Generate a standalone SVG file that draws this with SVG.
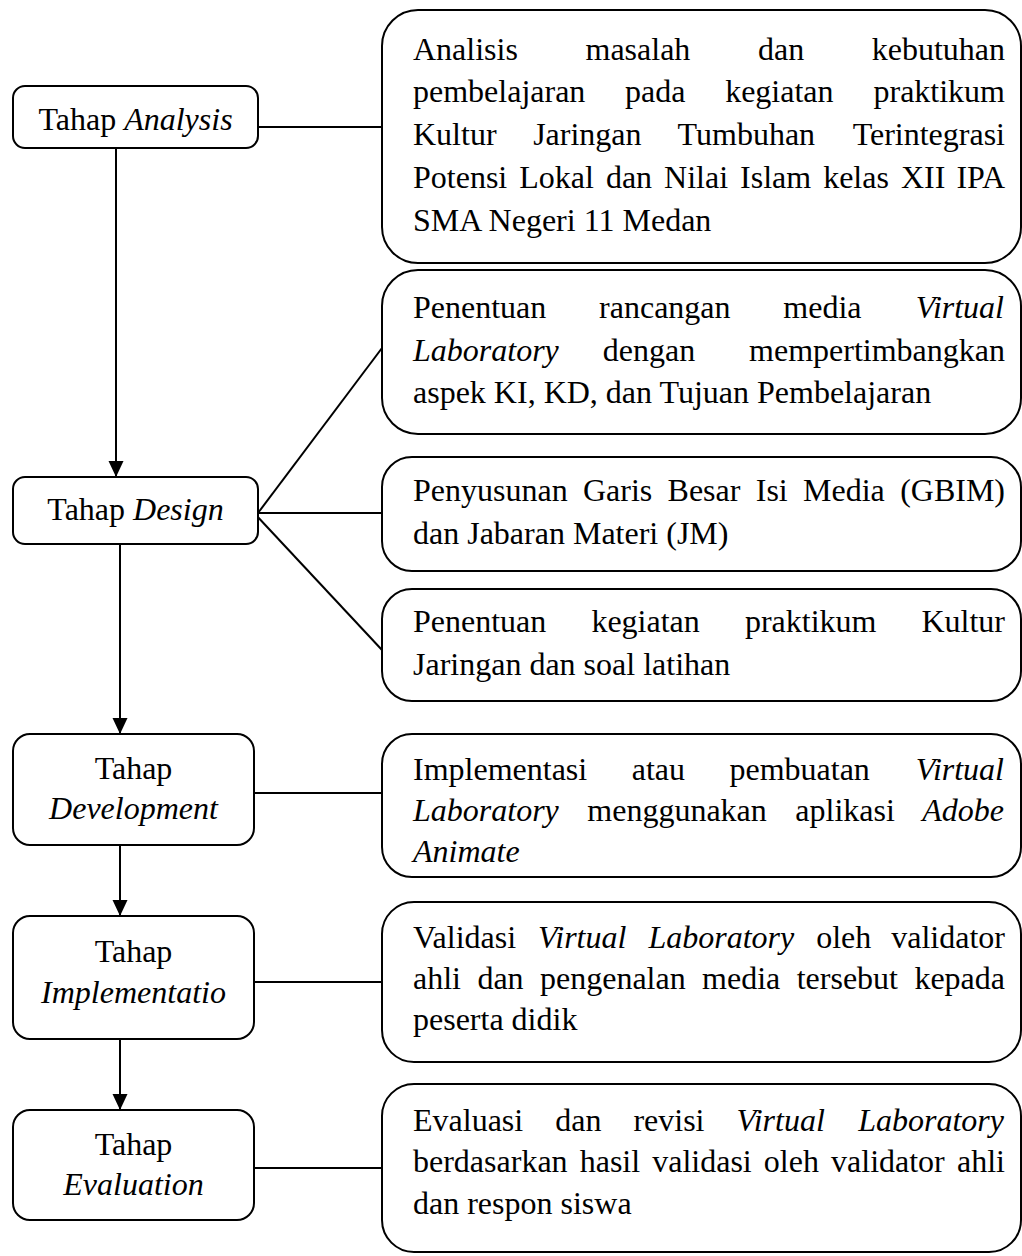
<svg xmlns="http://www.w3.org/2000/svg" width="1022" height="1256" viewBox="0 0 1022 1256">
<style>
  .box { fill: #ffffff; stroke: #000000; stroke-width: 2; }
  .ln { fill: none; stroke: #000000; stroke-width: 2; }
  text { font-family: "Times New Roman", "Liberation Serif", Tinos, Times, serif; font-size: 32px; fill: #000000; }
  .c { text-anchor: middle; }
  .e { text-anchor: end; }
  .i { font-style: italic; }
</style>
<defs>
  <marker id="arr" markerUnits="userSpaceOnUse" markerWidth="16" markerHeight="16" viewBox="0 0 16 16" refX="16" refY="8" orient="auto">
    <path d="M0,0.5 L16,8 L0,15.5 Z" fill="#000000"/>
  </marker>
</defs>
<rect width="1022" height="1256" fill="#ffffff"/>

<g id="connectors">
  <line class="ln" x1="258" y1="127" x2="382" y2="127"/>
  <line class="ln" x1="116" y1="148" x2="116" y2="477" marker-end="url(#arr)"/>
  <line class="ln" x1="258" y1="513" x2="382" y2="348"/>
  <line class="ln" x1="258" y1="513" x2="382" y2="513"/>
  <line class="ln" x1="255" y1="514" x2="382" y2="650"/>
  <line class="ln" x1="120" y1="544" x2="120" y2="734" marker-end="url(#arr)"/>
  <line class="ln" x1="254" y1="793" x2="382" y2="793"/>
  <line class="ln" x1="120" y1="845" x2="120" y2="916" marker-end="url(#arr)"/>
  <line class="ln" x1="254" y1="982" x2="382" y2="982"/>
  <line class="ln" x1="120" y1="1039" x2="120" y2="1110" marker-end="url(#arr)"/>
  <line class="ln" x1="254" y1="1168" x2="382" y2="1168"/>
</g>

<g id="tahap-analysis">
  <rect class="box" x="13" y="86" width="245" height="62" rx="12"/>
  <text class="c" x="135.5" y="130">Tahap <tspan class="i">Analysis</tspan></text>
</g>
<g id="tahap-design">
  <rect class="box" x="13" y="477" width="245" height="67" rx="12"/>
  <text class="c" x="135.5" y="520">Tahap <tspan class="i">Design</tspan></text>
</g>
<g id="tahap-development">
  <rect class="box" x="13" y="734" width="241" height="111" rx="17"/>
  <text class="c" x="133.5" y="779">Tahap</text>
  <text class="c i" x="133.5" y="819">Development</text>
</g>
<g id="tahap-implementation">
  <rect class="box" x="13" y="916" width="241" height="123" rx="17"/>
  <text class="c" x="133.5" y="962">Tahap</text>
  <text class="c i" x="133.5" y="1003">Implementatio</text>
</g>
<g id="tahap-evaluation">
  <rect class="box" x="13" y="1110" width="241" height="110" rx="17"/>
  <text class="c" x="133.5" y="1155">Tahap</text>
  <text class="c i" x="133.5" y="1195">Evaluation</text>
</g>

<g id="analysis-detail">
  <rect class="box" x="382" y="10" width="639" height="253" rx="36"/>
  <text x="413" y="60" word-spacing="59.6">Analisis masalah dan</text>
  <text class="e" x="1005" y="60">kebutuhan</text>
  <text x="413" y="102" word-spacing="31.7">pembelajaran pada kegiatan</text>
  <text class="e" x="1005" y="102">praktikum</text>
  <text x="413" y="145" word-spacing="28.6">Kultur Jaringan Tumbuhan</text>
  <text class="e" x="1005" y="145">Terintegrasi</text>
  <text x="413" y="188" word-spacing="4">Potensi Lokal dan Nilai Islam kelas XII</text>
  <text class="e" x="1005" y="188">IPA</text>
  <text x="413" y="231">SMA Negeri 11 Medan</text>
</g>

<g id="design-detail-1">
  <rect class="box" x="382" y="270" width="639" height="164" rx="36"/>
  <text x="413" y="318" word-spacing="44.8">Penentuan rancangan media</text>
  <text class="e i" x="1004" y="318">Virtual</text>
  <text x="413" y="360.5" word-spacing="36"><tspan class="i">Laboratory</tspan> dengan</text>
  <text class="e" x="1005" y="360.5">mempertimbangkan</text>
  <text x="413" y="403">aspek KI, KD, dan Tujuan Pembelajaran</text>
</g>

<g id="design-detail-2">
  <rect class="box" x="382" y="457" width="639" height="114" rx="30"/>
  <text x="413" y="501" word-spacing="7.3">Penyusunan Garis Besar Isi Media</text>
  <text class="e" x="1005" y="501">(GBIM)</text>
  <text x="413" y="544">dan Jabaran Materi (JM)</text>
</g>

<g id="design-detail-3">
  <rect class="box" x="382" y="589" width="639" height="112" rx="30"/>
  <text x="413" y="632" word-spacing="37.1">Penentuan kegiatan praktikum</text>
  <text class="e" x="1005" y="632">Kultur</text>
  <text x="413" y="675">Jaringan dan soal latihan</text>
</g>

<g id="development-detail">
  <rect class="box" x="382" y="734" width="639" height="143" rx="30"/>
  <text x="413" y="780" word-spacing="36.5">Implementasi atau pembuatan</text>
  <text class="e i" x="1004" y="780">Virtual</text>
  <text x="413" y="821" word-spacing="20.5"><tspan class="i">Laboratory</tspan> menggunakan aplikasi</text>
  <text class="e i" x="1004" y="821">Adobe</text>
  <text class="i" x="413" y="862">Animate</text>
</g>

<g id="implementation-detail">
  <rect class="box" x="382" y="902" width="639" height="160" rx="32"/>
  <text x="413" y="948" word-spacing="14">Validasi <tspan class="i">Virtual Laboratory</tspan> oleh</text>
  <text class="e" x="1005" y="948">validator</text>
  <text x="413" y="989" word-spacing="8.4">ahli dan pengenalan media tersebut</text>
  <text class="e" x="1005" y="989">kepada</text>
  <text x="413" y="1030">peserta didik</text>
</g>

<g id="evaluation-detail">
  <rect class="box" x="382" y="1084" width="639" height="168" rx="32"/>
  <text x="413" y="1131" word-spacing="24">Evaluasi dan revisi <tspan class="i">Virtual</tspan></text>
  <text class="e i" x="1004" y="1131">Laboratory</text>
  <text x="413" y="1172" word-spacing="4.1">berdasarkan hasil validasi oleh validator</text>
  <text class="e" x="1005" y="1172">ahli</text>
  <text x="413" y="1214">dan respon siswa</text>
</g>
</svg>
